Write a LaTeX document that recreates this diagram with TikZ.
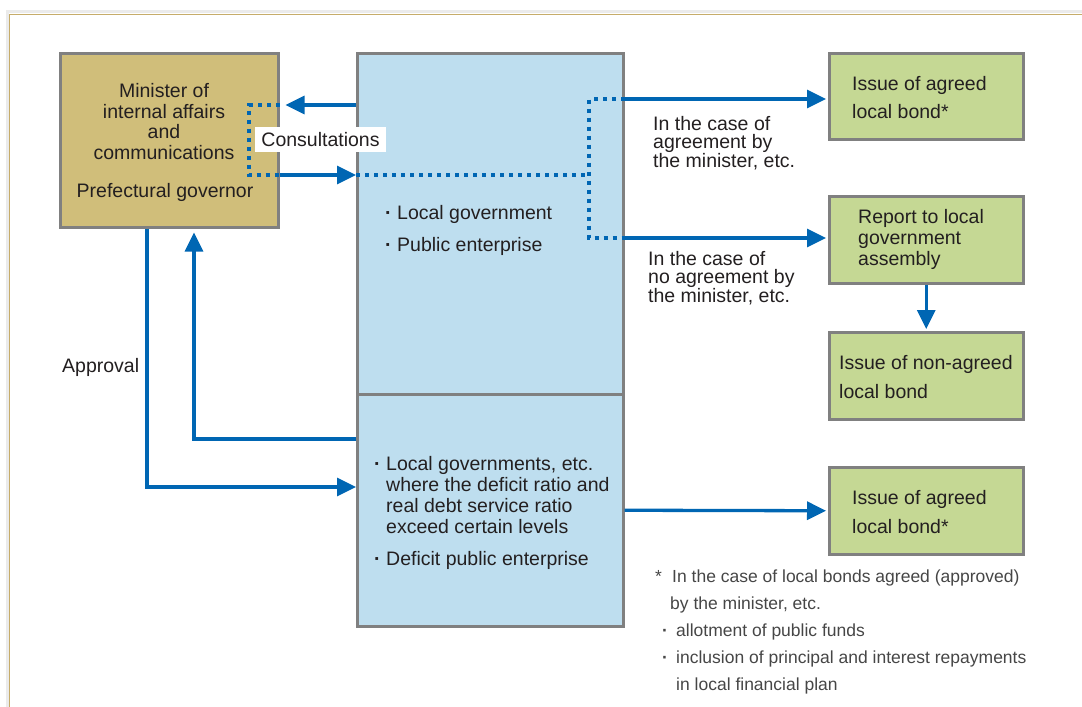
\documentclass[tikz,border=0pt]{standalone}
\usepackage{fontspec}
\setmainfont{Liberation Sans}
\usetikzlibrary{arrows.meta}
\definecolor{tanfill}{RGB}{208,190,122}
\definecolor{bluefill}{RGB}{190,222,239}
\definecolor{greenfill}{RGB}{197,216,148}
\definecolor{boxline}{RGB}{128,128,128}
\definecolor{arrblue}{RGB}{0,102,179}
\definecolor{framecol}{RGB}{198,172,106}
\definecolor{txt}{RGB}{35,31,32}
\definecolor{notetxt}{RGB}{70,70,70}
\newcommand{\mydot}{\textbf{·}}
\newcommand{\mybul}{\makebox[12pt][l]{\mydot}}
\begin{document}
\begin{tikzpicture}[x=1pt,y=-1pt,
  box/.style={draw=boxline, line width=2.5pt, anchor=north west, inner sep=0},
  lbl/.style={inner sep=0, anchor=north west, align=left, text=txt},
  arr/.style={draw=arrblue, line width=3.3pt, -{Triangle[length=19pt,width=18pt]}},
  dotline/.style={draw=arrblue, line width=3.3pt, dash pattern=on 4pt off 5pt}]
\useasboundingbox (0,0) rectangle (1082,707);
% frame
\draw[black!8, line width=3pt] (7,707) -- (7,11.5) -- (1082,11.5);
\draw[framecol, line width=1.6pt] (9.3,707) -- (9.3,14.5) -- (1082,14.5);
% boxes
\node[box, fill=tanfill, minimum width=218pt, minimum height=174pt] (tan) at (59,52) {};
\node[box, fill=bluefill, minimum width=266pt, minimum height=341pt] (blueU) at (356,52) {};
\node[box, fill=bluefill, minimum width=266pt, minimum height=232pt] (blueL) at (356,393) {};
\node[box, fill=greenfill, minimum width=194pt, minimum height=86pt] (green1) at (828,52) {};
\node[box, fill=greenfill, minimum width=194pt, minimum height=87pt] (green2) at (828,195) {};
\node[box, fill=greenfill, minimum width=194pt, minimum height=87pt] (green3) at (828,331) {};
\node[box, fill=greenfill, minimum width=194pt, minimum height=87pt] (green4) at (828,466) {};
% coordinates
\coordinate (dA) at (249,105);
\coordinate (dB) at (249,175);
\coordinate (dC) at (589,175);
\coordinate (dD) at (589,99);
\coordinate (dE) at (589,238);
\coordinate (ap) at (147,487);
\coordinate (rt) at (194,439);
% connectors
\draw[arr, shorten >=6pt] (blueU.west |- dA) -- (tan.east |- dA);
\draw[dotline] (tan.east |- dA) -- (dA) -- (dB) -- (tan.east |- dB);
\draw[arr] (tan.east |- dB) -- (blueU.west |- dB);
\draw[dotline] (blueU.west |- dB) -- (dC);
\draw[dotline] (blueU.east |- dD) -- (dD) -- (dE) -- (blueU.east |- dE);
\draw[arr, shorten >=2pt] (blueU.east |- dD) -- (green1.west |- dD);
\draw[arr, shorten >=2pt] (blueU.east |- dE) -- (green2.west |- dE);
\draw[arr, shorten >=2pt] (green2.south) -- (green3.north);
\draw[arr] (tan.south -| ap) -- (ap) -- (blueL.west |- ap);
\draw[arr, shorten >=4pt] (blueL.west |- rt) -- (rt) -- (tan.south -| rt);
\draw[arr, shorten >=2pt] (blueL.east) -- (green4.west);
% texts
\node[lbl, anchor=north, align=center, font=\fontsize{19.5}{20.7}\selectfont] (mic) at (164,83) {Minister of\\internal affairs\\and\\communications};
\node[lbl, anchor=north, align=center, font=\fontsize{19.5}{20.7}\selectfont] (pg) at (165,183) {Prefectural governor};
\node[fill=white, inner sep=0, minimum width=131pt, minimum height=25pt, text=txt, font=\fontsize{19.5}{20.7}\selectfont] (cons) at (320.5,139.5) {Consultations};
\node[lbl, font=\fontsize{19.5}{32}\selectfont] (lg) at (385,205) {\mybul Local government\\\mybul Public enterprise};
\node[lbl, font=\fontsize{19.5}{21}\selectfont] (lgs) at (374,456) {\mybul Local governments, etc.\\\hspace*{12pt}where the deficit ratio and\\\hspace*{12pt}real debt service ratio\\\hspace*{12pt}exceed certain levels};
\node[lbl, font=\fontsize{19.5}{21}\selectfont] (dpe) at (374,551) {\mybul Deficit public enterprise};
\node[lbl, font=\fontsize{19.5}{18.5}\selectfont] (case1) at (653,116) {In the case of\\agreement by\\the minister, etc.};
\node[lbl, font=\fontsize{19.5}{18.5}\selectfont] (case2) at (648,251) {In the case of\\no agreement by\\the minister, etc.};
\node[lbl, font=\fontsize{19.5}{28}\selectfont] (t1) at (852,76) {Issue of agreed\\local bond*};
\node[lbl, font=\fontsize{19.5}{21}\selectfont] (t2) at (858,209) {Report to local\\government\\assembly};
\node[lbl, font=\fontsize{19.5}{29}\selectfont] (t3) at (839,355) {Issue of non-agreed\\local bond};
\node[lbl, font=\fontsize{19.5}{29}\selectfont] (t4) at (852,490) {Issue of agreed\\local bond*};
\node[lbl, font=\fontsize{19.5}{21}\selectfont] (appr) at (62,358) {Approval};
\node[lbl, text=notetxt, font=\fontsize{17.5}{27}\selectfont] (note) at (655,570) {\makebox[17pt][l]{*}In the case of local bonds agreed (approved)\\\hspace*{15pt}by the minister, etc.\\\hspace*{7pt}\makebox[14pt][l]{\mydot}allotment of public funds\\\hspace*{7pt}\makebox[14pt][l]{\mydot}inclusion of principal and interest repayments\\\hspace*{21pt}in local financial plan};
\end{tikzpicture}
\end{document}
